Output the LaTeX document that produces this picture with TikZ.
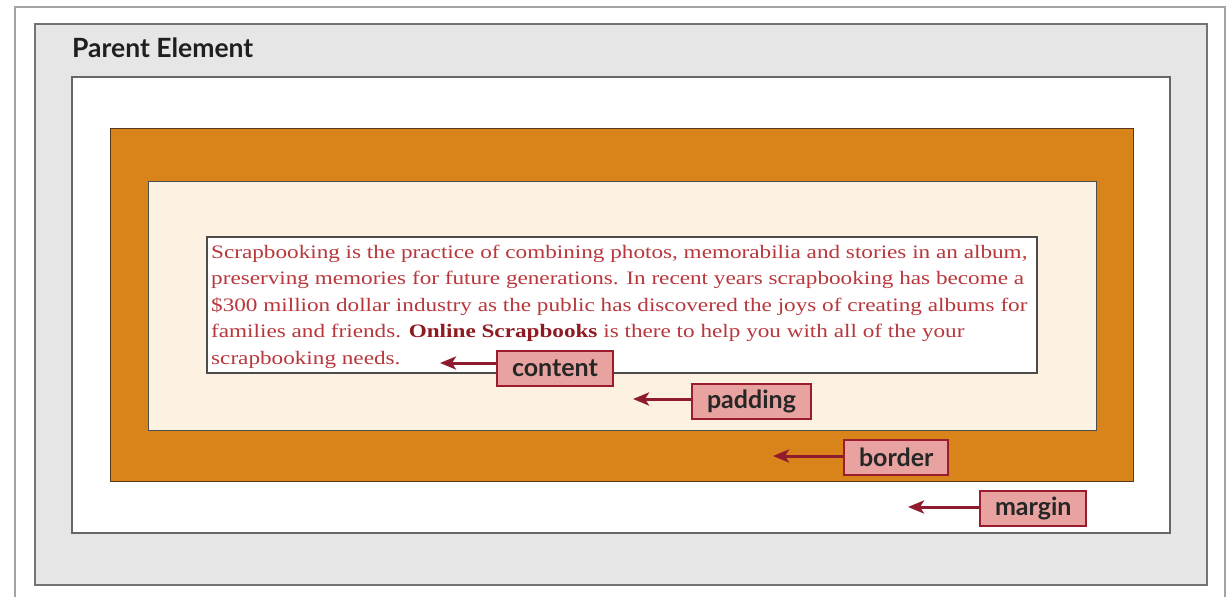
\documentclass[tikz,border=0pt]{standalone}
\usepackage{fontspec}
\usetikzlibrary{arrows.meta}
\newfontfamily\bodyfont[FakeStretch=1.22]{Liberation Serif}
\newfontfamily\labelfont{Lato}
\definecolor{framegray}{HTML}{8C8C8C}
\definecolor{parentfill}{HTML}{E6E6E6}
\definecolor{borderorange}{HTML}{D9841B}
\definecolor{paddingcream}{HTML}{FDF1E2}
\definecolor{textred}{HTML}{B8373C}
\definecolor{boldred}{HTML}{8E1B22}
\definecolor{tagfill}{HTML}{E8A3A0}
\definecolor{tagedge}{HTML}{9B1C2C}
\definecolor{arrowred}{HTML}{8E1B2E}
\tikzset{
  boxline/.style={draw=#1, line width=1.6pt},
  tagbox/.style={draw=tagedge, fill=tagfill, line width=2pt, minimum height=35pt,
    inner xsep=15pt, inner ysep=0pt, font=\labelfont\fontsize{25}{27}\selectfont\bfseries,
    text=black!85},
  tagarrow/.style={draw=arrowred, line width=3pt,
    -{Stealth[length=16pt,width=13pt,inset=4pt]}},
  bodyline/.style={anchor=base west, inner sep=0pt, text=textred,
    font=\bodyfont\fontsize{19}{24}\selectfont}
}
\begin{document}
\begin{tikzpicture}[x=1pt,y=-1pt]
\useasboundingbox (0,0) rectangle (1229,597);
\fill[white] (0,0) rectangle (1229,597);
% outer page frame, open at the bottom
\draw[framegray!80, line width=1.6pt] (15,597) -- (15,7) -- (1225,7) -- (1225,597);
% parent element
\draw[boxline=black!55, fill=parentfill] (35,24) rectangle (1207,585);
\node[anchor=base west, inner sep=0pt, font=\labelfont\fontsize{26.5}{28}\selectfont\bfseries, text=black!88]
  (parent) at (72,57) {Parent Element};
% margin area
\draw[boxline=black!60, fill=white] (72,77) rectangle (1170,533);
% border area
\draw[draw=black!55!brown, line width=0.8pt, fill=borderorange] (110,128) rectangle (1133,481);
% padding area
\draw[draw=black!70, line width=1pt, fill=paddingcream] (148,181) rectangle (1096,430);
% content area
\draw[draw=black!70, line width=1.6pt, fill=white] (207,237) rectangle (1037,373);
% paragraph text
\node[bodyline] (l1) at (211,258) {Scrapbooking is the practice of combining photos, memorabilia and stories in an album,};
\node[bodyline] (l2) at (211,284.5) {preserving memories for future generations. In recent years scrapbooking has become a};
\node[bodyline] (l3) at (211,311) {\$300 million dollar industry as the public has discovered the joys of creating albums for};
\node[bodyline] (l4) at (211,337.5) {families and friends. {\bfseries\color{boldred}Online Scrapbooks} is there to help you with all of the your};
\node[bodyline] (l5) at (211,364) {scrapbooking needs.};
% labels and their arrows
\node[tagbox, anchor=west] (content) at (496,368) {content};
\node[tagbox, anchor=west] (padding) at (691,401) {padding};
\node[tagbox, anchor=west] (border) at (843,457) {border};
\node[tagbox, anchor=west] (margin) at (979,508) {margin};
\coordinate (ctip) at (440,363);
\coordinate (ptip) at (633,399);
\coordinate (btip) at (773,456);
\coordinate (mtip) at (908,507);
\draw[tagarrow] (ctip -| content.west) -- (ctip);
\draw[tagarrow] (ptip -| padding.west) -- (ptip);
\draw[tagarrow] (btip -| border.west) -- (btip);
\draw[tagarrow] (mtip -| margin.west) -- (mtip);
\end{tikzpicture}
\end{document}
